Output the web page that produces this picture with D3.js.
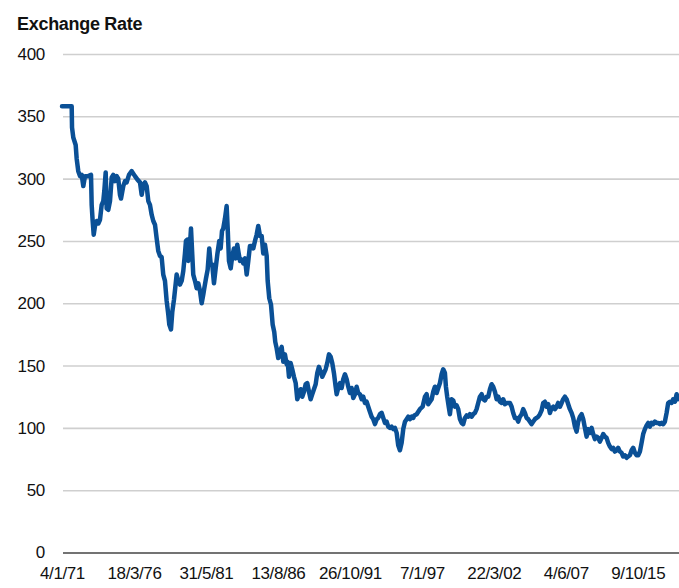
<!DOCTYPE html>
<html>
<head>
<meta charset="utf-8">
<script src="https://cdn.jsdelivr.net/npm/d3@7"></script>
<style>
  body { margin: 0; background: #fff; }
  text { font-family: "Liberation Sans", Arial, sans-serif; }
</style>
</head>
<body>
<script>
(function() {
    var w = 679;
    var h = 588;

    var obs = [0, 175, 181, 204, 247, 265, 294, 325, 356, 385, 415, 475, 524, 536, 554, 573, 596, 627, 656, 686,
        717, 746, 764, 789, 807, 836, 867, 898, 926, 957, 988, 1016, 1047, 1066, 1107, 1138, 1168, 1210, 1259, 1318,
        1367, 1409, 1439, 1468, 1499, 1529, 1559, 1589, 1620, 1649, 1680, 1710, 1739, 1770, 1800, 1829, 1860, 1890, 1920, 1938,
        1969, 1992, 2023, 2071, 2100, 2131, 2162, 2191, 2221, 2239, 2263, 2281, 2312, 2330, 2353, 2371, 2402, 2433, 2462, 2492,
        2523, 2552, 2570, 2601, 2631, 2660, 2686, 2714, 2745, 2776, 2805, 2841, 2866, 2890, 2913, 2944, 2974, 2993, 3016, 3047,
        3076, 3106, 3137, 3166, 3191, 3215, 3245, 3274, 3305, 3336, 3365, 3395, 3426, 3455, 3486, 3516, 3545, 3576, 3607, 3635,
        3666, 3697, 3715, 3744, 3775, 3805, 3834, 3852, 3877, 3906, 3937, 3968, 3997, 4027, 4058, 4076, 4100, 4130, 4159, 4190,
        4221, 4250, 4280, 4311, 4340, 4371, 4401, 4430, 4461, 4491, 4520, 4551, 4582, 4611, 4641, 4672, 4701, 4732, 4762, 4791,
        4822, 4853, 4882, 4912, 4943, 4961, 4990, 5021, 5051, 5080, 5111, 5142, 5171, 5201, 5232, 5261, 5292, 5322, 5351, 5382,
        5413, 5441, 5472, 5503, 5532, 5562, 5593, 5622, 5653, 5684, 5712, 5743, 5774, 5803, 5833, 5864, 5893, 5924, 5954, 5983,
        6014, 6045, 6073, 6104, 6135, 6164, 6195, 6225, 6254, 6285, 6316, 6345, 6363, 6406, 6465, 6514, 6556, 6586, 6615, 6646,
        6677, 6706, 6736, 6767, 6796, 6827, 6857, 6886, 6917, 6935, 6958, 6989, 7007, 7038, 7067, 7098, 7128, 7157, 7188, 7218,
        7247, 7278, 7309, 7338, 7368, 7399, 7428, 7459, 7489, 7518, 7549, 7580, 7609, 7639, 7670, 7699, 7730, 7760, 7789, 7820,
        7851, 7880, 7910, 7941, 7970, 8001, 8031, 8060, 8091, 8122, 8150, 8181, 8212, 8241, 8271, 8302, 8331, 8362, 8392, 8421,
        8452, 8483, 8512, 8542, 8573, 8602, 8633, 8663, 8692, 8723, 8754, 8783, 8813, 8844, 8873, 8904, 8934, 8963, 8994, 9025,
        9053, 9084, 9115, 9144, 9174, 9205, 9234, 9265, 9295, 9324, 9355, 9386, 9415, 9445, 9476, 9505, 9536, 9566, 9595, 9626,
        9657, 9686, 9716, 9747, 9776, 9807, 9837, 9866, 9897, 9928, 9957, 9987, 10018, 10047, 10077, 10108, 10137, 10168, 10198, 10227,
        10258, 10289, 10318, 10348, 10379, 10408, 10439, 10469, 10498, 10529, 10560, 10589, 10619, 10650, 10679, 10710, 10740, 10769, 10800, 10831,
        10860, 10890, 10921, 10950, 10980, 11011, 11040, 11071, 11102, 11130];

    var rate = [358, 358, 341, 333, 327, 316, 306, 302, 303, 294, 302, 302, 303, 279, 266, 255, 262, 266, 264, 267,
        279, 282, 290, 305, 276, 275, 282, 301, 303, 298, 302, 300, 287, 284, 294, 298, 297, 303, 306, 302,
        299, 297, 287, 295, 297, 294, 282, 279, 271, 266, 263, 252, 242, 238, 237, 223, 218, 202, 191, 183,
        179, 193, 203, 223, 218, 215, 218, 226, 240, 250, 251, 234, 247, 260, 239, 223, 218, 212, 216, 210,
        200, 207, 212, 220, 227, 244, 231, 231, 216, 228, 239, 250, 244, 258, 260, 268, 278, 260, 234, 228,
        238, 244, 236, 247, 240, 234, 235, 232, 236, 223, 234, 246, 246, 244, 250, 255, 262, 254, 254, 240,
        247, 238, 218, 204, 199, 183, 177, 169, 164, 156, 161, 165, 153, 159, 151, 153, 141, 152, 147, 141,
        136, 123, 127, 131, 125, 129, 135, 136, 129, 123, 127, 131, 135, 144, 149, 145, 141, 144, 147, 152,
        159, 157, 152, 144, 133, 127, 132, 136, 132, 139, 143, 139, 133, 128, 132, 124, 127, 133, 128, 127,
        123, 125, 120, 121, 117, 113, 109, 107, 103, 107, 108, 111, 112, 108, 104, 105, 101, 100, 101, 99,
        100, 96, 86, 82, 88, 99, 105, 107, 109, 107, 109, 108, 110, 111, 115, 117, 125, 127, 119, 121,
        123, 129, 133, 128, 132, 136, 143, 147, 144, 133, 125, 116, 111, 123, 122, 117, 118, 115, 107, 104,
        103, 108, 110, 109, 111, 109, 111, 112, 115, 120, 125, 127, 123, 122, 125, 125, 131, 135, 133, 129,
        123, 125, 121, 120, 123, 119, 120, 120, 120, 117, 112, 108, 108, 105, 109, 111, 115, 112, 108, 107,
        105, 103, 105, 107, 108, 109, 111, 114, 120, 121, 117, 119, 112, 116, 117, 115, 117, 120, 117, 120,
        123, 125, 123, 119, 115, 112, 108, 101, 97, 105, 109, 111, 107, 100, 93, 99, 96, 100, 95, 91,
        93, 92, 89, 92, 95, 93, 92, 88, 85, 83, 84, 81, 82, 84, 81, 80, 77, 78, 76, 77,
        78, 82, 84, 80, 78, 78, 81, 88, 95, 99, 102, 104, 101, 104, 103, 105, 104, 104, 103, 104,
        103, 105, 112, 120, 121, 120, 123, 121, 127, 123];

    var tickObs = [0, 1300, 2600, 3900, 5200, 6500, 7800, 9100, 10400];
    var tickLabels = ["4/1/71", "18/3/76", "31/5/81", "13/8/86", "26/10/91", "7/1/97", "22/3/02", "4/6/07", "9/10/15"];
    var yTicks = [0, 50, 100, 150, 200, 250, 300, 350, 400];

    var margin = {top: 54, right: 0, bottom: 35, left: 62};

    var svg = d3.select("body").append("svg")
        .attr("width", w)
        .attr("height", h);

    var x = d3.scaleLinear()
        .domain([0, 11145])
        .range([margin.left, w - margin.right]);

    var y = d3.scaleLinear()
        .domain([0, 400])
        .range([552.5, margin.top]);

    //title
    svg.append("text")
        .attr("x", 17)
        .attr("y", 30)
        .attr("font-size", "18px")
        .attr("font-weight", "bold")
        .attr("letter-spacing", "-0.3px")
        .attr("fill", "#111")
        .text("Exchange Rate");

    //gridlines + y labels
    var yAxis = d3.axisLeft(y)
        .tickValues(yTicks)
        .tickSize(-(w - margin.left - margin.right + 1))
        .tickPadding(18);

    var gy = svg.append("g")
        .attr("transform", "translate(" + (margin.left + 1) + ",0)")
        .call(yAxis);
    gy.select(".domain").remove();
    gy.selectAll(".tick line")
        .attr("stroke", function(d) { return d === 0 ? "#444" : "#cfcfcf"; })
        .attr("stroke-width", 1.6);
    gy.selectAll(".tick text")
        .attr("font-size", "17px")
        .attr("font-family", "Liberation Sans, Arial, sans-serif")
        .attr("letter-spacing", "-0.3px")
        .attr("fill", "#111");

    //x labels
    var xAxis = d3.axisBottom(x)
        .tickValues(tickObs)
        .tickFormat(function(d, i) { return tickLabels[i]; })
        .tickSize(0)
        .tickPadding(14);

    var gx = svg.append("g")
        .attr("transform", "translate(0," + y(0) + ")")
        .call(xAxis);
    gx.select(".domain").remove();
    gx.selectAll(".tick text")
        .attr("font-size", "17px")
        .attr("font-family", "Liberation Sans, Arial, sans-serif")
        .attr("letter-spacing", "-0.4px")
        .attr("fill", "#111");

    //the rate line
    var line = d3.line()
        .x(function(d, i) { return x(obs[i]); })
        .y(function(d) { return y(d); });

    svg.append("path")
        .datum(rate)
        .attr("d", line)
        .attr("fill", "none")
        .attr("stroke", "#0a5096")
        .attr("stroke-width", 4.5)
        .attr("stroke-linejoin", "round")
        .attr("stroke-linecap", "round");
})();
</script>
</body>
</html>
